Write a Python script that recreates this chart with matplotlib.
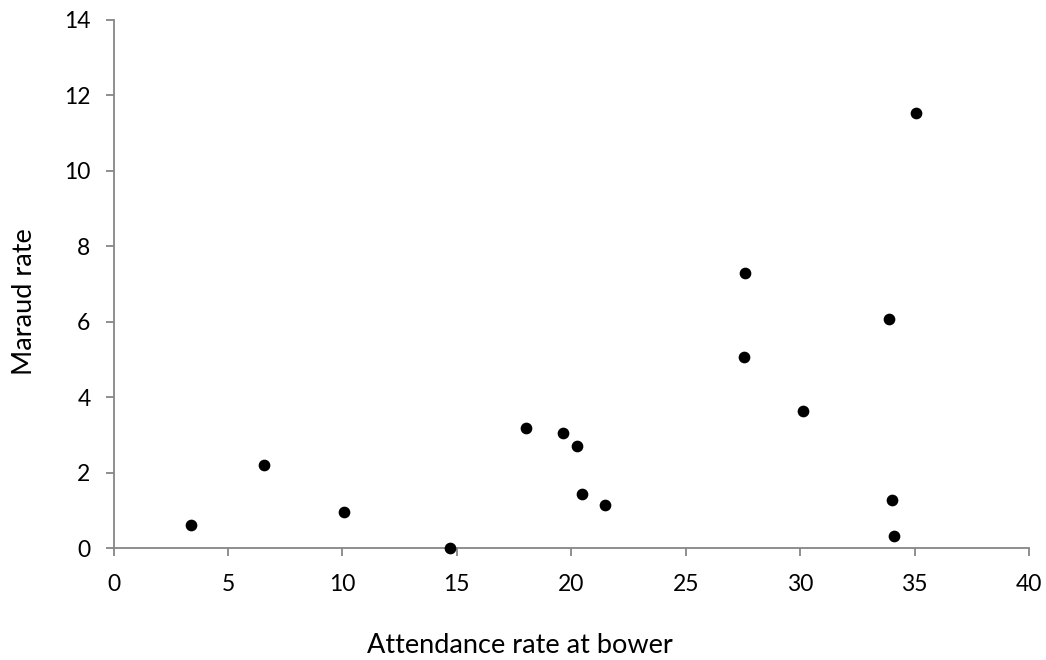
import matplotlib
matplotlib.use("Agg")
import matplotlib.pyplot as plt

# Attendance at bower vs. marauding rate
attendance = [3.37, 6.59, 10.08, 14.71, 18.03, 19.62, 20.27, 20.47, 21.48,
              27.59, 27.55, 30.11, 33.88, 34.03, 34.11, 35.06]
maraud = [0.61, 2.20, 0.95, 0.0, 3.19, 3.05, 2.72, 1.43, 1.14,
          7.28, 5.07, 3.65, 6.08, 1.27, 0.33, 11.52]
x_ticks = [0, 5, 10, 15, 20, 25, 30, 35, 40]
y_ticks = [0, 2, 4, 6, 8, 10, 12, 14]

plt.rcParams['font.family'] = ['Lato', 'DejaVu Sans']

fig = plt.figure(figsize=(10.46, 6.6), dpi=100)
ax = fig.add_axes([113.5 / 1046, 1 - 548.3 / 660, (1029 - 113.5) / 1046, (548.3 - 19.8) / 660])

ax.scatter(attendance, maraud, s=55, color='black', zorder=3, clip_on=False)

ax.set_xlim(0, 40)
ax.set_ylim(0, 14)
ax.set_xticks(x_ticks)
ax.set_yticks(y_ticks)

axis_color = '#868686'
for side in ('top', 'right'):
    ax.spines[side].set_visible(False)
for side in ('left', 'bottom'):
    ax.spines[side].set_color(axis_color)
    ax.spines[side].set_linewidth(1.3)
ax.tick_params(axis='both', direction='out', length=5.5, width=1.3, color=axis_color,
               labelsize=16.5, labelcolor='black')
ax.tick_params(axis='x', pad=13)
ax.tick_params(axis='y', pad=11)

ax.set_xlabel('Attendance rate at bower', fontsize=19.5)
ax.set_ylabel('Maraud rate', fontsize=19.5)
ax.xaxis.set_label_coords(0.444, -0.183)
ax.yaxis.set_label_coords(-0.0975, 0.466)
ax.xaxis.label.set_va('center')
ax.yaxis.label.set_va('center')

fig.savefig('out.png', dpi=100)
